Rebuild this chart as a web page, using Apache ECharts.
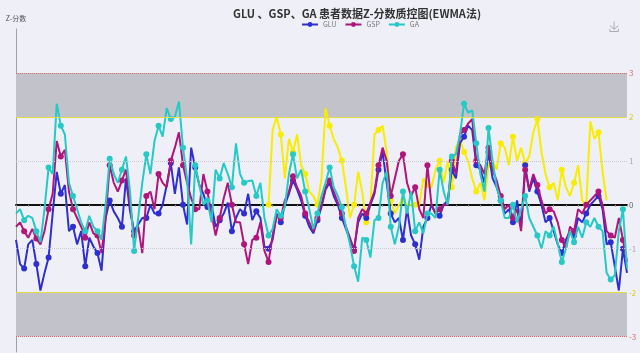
<!DOCTYPE html>
<html><head><meta charset="utf-8">
<script src="https://cdn.jsdelivr.net/npm/echarts@6/dist/echarts.min.js"></script>
<style>html,body{margin:0;padding:0;background:#eff0f7;}#c{width:640px;height:353px;}</style>
</head><body><div id="c"></div>
<script>
const titleText = 'GLU 、GSP、GA 患者数据Z-分数质控图(EWMA法)';
const seriesNames = ['GLU', 'GSP', 'GA'];
const limitValues = [3, 2, 1, 0, -1, -2, -3];

const glu = [-0.8,-1.35,-1.45,-0.9,-0.8,-1.35,-1.95,-1.55,-1.2,-0.2,0.75,0.25,0.45,-0.6,-0.5,-0.9,-0.6,-1.4,-0.75,-0.95,-1.1,-1.5,-0.3,0.1,-0.15,-0.3,-0.5,0.6,-0.15,-0.6,-0.45,
 -0.3,-0.3,0,-0.2,-0.2,0,0.45,0.95,0.25,0.85,0,-0.45,1.3,0.85,0.45,0.25,-0.05,0,-0.5,-0.35,-0.2,0.05,-0.6,-0.3,-0.1,-0.2,0.25,-0.35,-0.15,-0.3,
 -0.95,-1.0,-0.8,-0.2,-0.4,0,0.25,0.55,0.35,0.1,-0.25,-0.5,-0.65,-0.35,-0.05,0.35,0.5,0.2,0,-0.3,-0.55,-0.8,-1.0,-0.4,-0.2,-0.3,0,0.25,0.8,1.2,
 0.5,-0.2,-0.4,-0.3,-0.8,-0.1,-0.7,-0.9,-1.25,-0.5,-0.3,0,-0.2,-0.25,0,0.1,0.8,0.6,1.4,1.55,1.8,1.7,0.9,0.8,0.5,1.2,0.6,0.4,0.1,-0.2,
 -0.1,-0.4,0.1,-0.5,0.9,0.3,0.6,0.3,0,-0.4,-0.3,-0.6,-0.9,-1.1,-0.8,-0.6,-0.7,-0.3,-0.4,-0.2,0,0.1,0.2,-0.1,-0.9,-0.85,-1.4,-1.95,-1.0,-1.55];

const gsp = [-0.5,-0.4,-0.6,-0.75,-0.55,-0.77,-0.9,-0.6,-0.1,0.25,1.45,1.1,1.25,0.3,-0.1,-0.3,-0.5,-0.75,-0.4,-0.65,-0.7,-1.1,-0.3,0.9,0.5,0.3,0.55,0.8,0,-0.7,-0.5,
 -1.1,0.2,0.3,-0.1,0.7,0.5,0.4,1.0,1.3,1.65,0.9,0.5,0.15,-0.1,-0.1,0.7,0.3,-0.2,-0.7,-0.3,0.15,0.5,0,-0.4,-0.4,-0.9,-1.35,-0.8,-0.75,-0.4,
 -1.05,-1.3,-0.7,-0.25,-0.3,0.1,0.3,0.65,0.4,0.2,-0.2,-0.4,-0.6,-0.3,0,0.4,0.55,0.3,0.05,-0.2,-0.5,-0.75,-1.05,-0.3,-0.1,-0.2,0.05,0.3,0.9,1.3,
 1.0,0.2,0.6,1.0,1.15,0.5,0.2,0.4,-0.1,-0.3,0.9,0,-0.2,-0.1,0,0,1.0,0.7,1.6,1.7,1.85,1.95,1.0,0.9,0.7,1.3,0.8,0.55,0.2,-0.1,
 0,-0.3,-0.1,-0.6,0.8,0.35,0.7,0.45,0.1,-0.2,-0.1,-0.15,-0.4,-0.8,-1.0,-0.5,-0.6,-0.1,-0.2,0,0.1,0.2,0.3,0,-0.6,-0.7,-0.75,-0.3,-0.8,-1.3];

const ga = [-0.2,-0.1,-0.35,-0.25,-0.3,-0.6,-0.85,-0.1,0.85,0.7,2.3,1.8,1.6,0.5,0.2,-0.1,-0.4,-0.6,-0.25,-0.5,-0.6,-0.8,0,1.05,0.7,0.5,0.8,1.1,0.3,-1.05,-0.3,
 0.5,1.15,0.7,1.45,1.8,1.55,2.2,1.95,2.0,2.35,1.3,0.6,-0.9,0.9,0.45,0,0.1,-0.4,0.8,0.6,0.95,0.7,0.4,1.4,0.7,0.5,0.54,0.55,0.2,0.5,
 -0.3,-0.7,-0.55,-0.1,-0.25,-0.05,0.7,1.15,0.6,0.8,0.3,-0.1,-0.55,-0.2,0.2,0.5,0.85,0.4,0.2,-0.05,-0.5,-0.9,-1.4,-1.75,-0.75,-0.8,-1.2,-0.35,-0.3,0.5,
 0.75,-0.5,-0.9,-0.5,0.3,-0.2,0.3,-0.6,-0.4,-0.65,-0.2,-0.2,-0.3,0.8,0.3,0,1.1,1.15,1.6,2.3,2.1,2.15,1.4,0.7,0.3,1.75,1.0,0.4,0.1,-0.3,
 -0.3,0,-0.4,-0.1,0.2,-0.3,-0.5,-0.7,-1.0,-0.6,-0.7,-0.5,-0.9,-1.3,-1.0,-0.6,-0.85,-0.5,-0.75,-0.4,-0.5,-0.3,-0.5,-0.6,-1.55,-1.7,-1.6,-0.6,-0.1,-1.45];

const gaHigh = [null,null,null,null,null,null,null,null,null,null,null,null,null,null,null,null,null,null,null,null,null,null,null,null,null,null,null,null,null,null,null,
 null,null,null,null,null,null,null,null,null,null,null,null,null,null,null,null,null,null,null,null,null,null,null,null,null,null,null,null,null,null,
 null,0,1.7,2.0,1.6,0.6,1.5,1.2,1.6,0.9,0.7,0.3,0.2,0,0.6,2.2,1.8,1.5,1.3,1.0,0.4,-0.3,0,0.75,0.3,-0.4,0,1.6,1.7,1.8,
 1.2,0.1,-0.2,0,0.1,0,0,0,0,0.6,0.45,0.4,0.8,1.0,0.5,1.0,0.4,1.3,1.5,1.2,1.0,0.6,0.3,0.5,0.1,0.9,1.0,0.8,1.4,1.3,
 0.9,1.55,1.0,1.3,0.95,1.1,1.65,1.95,1.2,0.7,0.4,0.5,0.1,0.8,0.4,0.2,0.5,0.9,0.1,0,1.9,1.5,1.65,0.75,0.1,null,null,null,null,null];

const categories = glu.map((_, i) => String(i + 1));

const colors = { GLU: '#2f2fd0', GSP: '#b0157c', GA: '#25c9c6', high: '#f8ec00' };
const symFn = (v, p) => (p.dataIndex % 3 === 2 ? 6 : 0);

function lineSeries(name, data, color, z) {
  return {
    name, type: 'line', data, z,
    showSymbol: true, showAllSymbol: true, symbol: 'circle', symbolSize: symFn,
    lineStyle: { color, width: 2 }, itemStyle: { color },
    connectNulls: false, animation: false
  };
}

const lineCol = { '3': '#e06a6a', '2': '#e6dc4a', '1': '#c9c9cf', '0': 'rgba(0,0,0,0)' };
const labelCol = { '3': '#e06a6a', '2': '#d8c820', '1': '#a8a8b0', '0': '#666' };
const markLineData = limitValues.map(v => {
  const k = String(Math.abs(v));
  return {
    yAxis: v,
    lineStyle: { color: lineCol[k], type: k === '2' ? 'solid' : 'dotted', width: 1 },
    label: { color: labelCol[k] }
  };
});

const highSeries = lineSeries('GA高', gaHigh, colors.high, 1);
highSeries.markArea = {
  silent: true,
  itemStyle: { color: '#c1c2ca' },
  data: [[{ yAxis: 2 }, { yAxis: 3 }], [{ yAxis: -3 }, { yAxis: -2 }]]
};
highSeries.markLine = {
  silent: true, symbol: 'none', animation: false,
  label: { position: 'end', formatter: '{c}', fontSize: 8, distance: 2 },
  data: markLineData
};

const chart = echarts.init(document.getElementById('c'), null, { renderer: 'canvas' });
chart.setOption({
  backgroundColor: '#eff0f7',
  animation: false,
  textStyle: { fontFamily: 'Noto Sans CJK SC, Noto Sans, sans-serif' },
  title: {
    text: titleText, left: 228, top: 3,
    textStyle: { fontSize: 11, fontWeight: 'bold', color: '#333', fontFamily: 'Noto Sans CJK SC' }
  },
  legend: {
    data: seriesNames, left: 296, top: 16, itemWidth: 16, itemHeight: 6, itemGap: 8,
    textStyle: { fontSize: 7, color: '#777' }
  },
  toolbox: { right: 4, top: 4, itemSize: 10, feature: { saveAsImage: { iconStyle: { borderColor: '#aaa' } } } },
  grid: { left: 16, right: 13, top: 29, bottom: 1 },
  xAxis: {
    type: 'category', data: categories, boundaryGap: false,
    axisLine: { onZero: true, lineStyle: { color: '#111', width: 2 } },
    axisTick: { show: true, interval: 2, length: 2, lineStyle: { color: '#999' } },
    axisLabel: { show: false }, splitLine: { show: false }
  },
  yAxis: {
    type: 'value', min: -3.35, max: 4,
    name: 'Z-分数', nameLocation: 'end', nameGap: 7,
    nameTextStyle: { fontSize: 7, color: '#555', align: 'center' },
    axisLine: { show: true, onZero: false, lineStyle: { color: '#a0a0a8', width: 1 } },
    axisTick: { show: false }, axisLabel: { show: false }, splitLine: { show: false }
  },
  series: [
    highSeries,
    lineSeries('GLU', glu, colors.GLU, 2),
    lineSeries('GSP', gsp, colors.GSP, 3),
    lineSeries('GA', ga, colors.GA, 4)
  ]
});
</script></body></html>
